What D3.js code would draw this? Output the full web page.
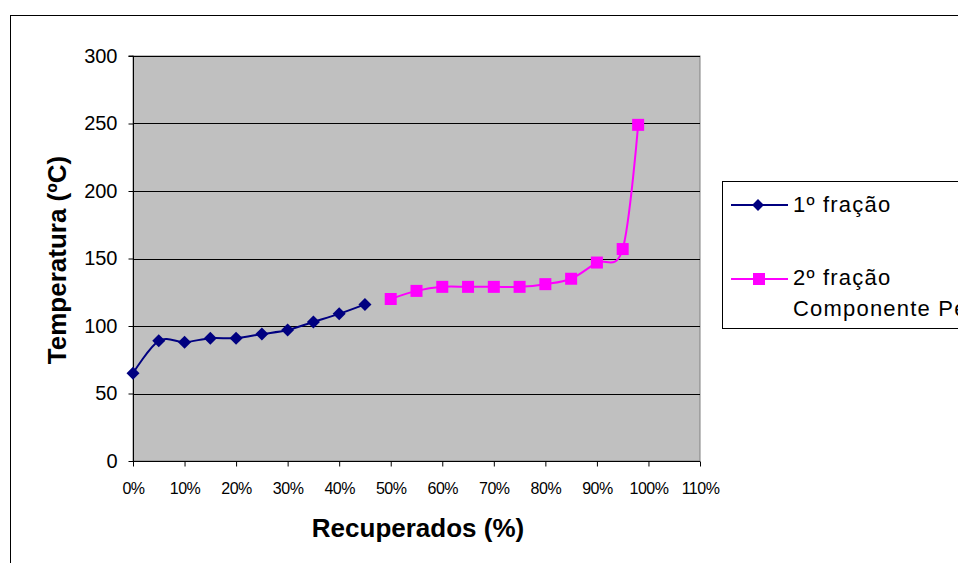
<!DOCTYPE html>
<html>
<head>
<meta charset="utf-8">
<script src="https://cdn.jsdelivr.net/npm/d3@7"></script>
<style>
  html, body { margin: 0; padding: 0; background: #fff; overflow: hidden; }
  svg { display: block; font-family: "Liberation Sans", Arial, sans-serif; }
</style>
</head>
<body>
<script>
// Distillation curve: temperature vs. recovered fraction
const serie1Names = "1º fração";
const serie2Lines = ["2º fração", "Componente Pesado"];

const recov1 = [0, 5, 10, 15, 20, 25, 30, 35, 40, 45];
const temp1  = [65, 89, 88, 91, 91, 94, 97, 103, 109, 116];

const recov2 = [50, 55, 60, 65, 70, 75, 80, 85, 90, 95, 98];
const temp2  = [120, 126, 129, 129, 129, 129, 131, 135, 147, 157, 249];

const xTicks = [0, 10, 20, 30, 40, 50, 60, 70, 80, 90, 100, 110];
const yTicks = [0, 50, 100, 150, 200, 250, 300];

const W = 958, H = 563;
const plot = { left: 133, top: 56, right: 700, bottom: 461 };
const FONT = "Liberation Sans, Arial, sans-serif";

const svg = d3.select("body").append("svg").attr("width", W).attr("height", H);

// chart frame
svg.append("rect")
  .attr("x", 10.5).attr("y", 15.5).attr("width", 1000).attr("height", 600)
  .attr("fill", "#fff").attr("stroke", "#000").attr("stroke-width", 1);

const x = d3.scaleLinear().domain([0, 110]).range([plot.left, plot.right]);
const y = d3.scaleLinear().domain([0, 300]).range([plot.bottom, plot.top]);

// plot area
svg.append("rect")
  .attr("x", plot.left).attr("y", plot.top)
  .attr("width", plot.right - plot.left).attr("height", plot.bottom - plot.top)
  .attr("fill", "#c0c0c0").attr("stroke", "#808080").attr("stroke-width", 1);

// horizontal gridlines
svg.append("g").selectAll("line").data(yTicks.filter(d => d > 0)).join("line")
  .attr("x1", plot.left).attr("x2", plot.right)
  .attr("y1", d => Math.round(y(d)) + 0.5).attr("y2", d => Math.round(y(d)) + 0.5)
  .attr("stroke", "#000").attr("stroke-width", 1);

// y axis
const yAxis = svg.append("g")
  .attr("transform", `translate(${plot.left + 0.5},0)`)
  .call(d3.axisLeft(y).tickValues(yTicks).tickSize(5).tickPadding(11));
yAxis.selectAll("text").attr("font-size", 20).attr("fill", "#000").attr("font-family", FONT);
yAxis.selectAll("line, path").attr("stroke", "#000");
yAxis.select(".domain").attr("d", `M-5,${y(300)}H0V${y(0)}`);

// x axis
const xAxis = svg.append("g")
  .attr("transform", `translate(0,${plot.bottom + 0.5})`)
  .call(d3.axisBottom(x).tickValues(xTicks).tickFormat(d => d + "%").tickSize(5).tickPadding(16));
xAxis.selectAll("text").attr("font-size", 16).attr("fill", "#000").attr("font-family", FONT)
  .attr("letter-spacing", -0.5);
xAxis.selectAll("line, path").attr("stroke", "#000");
xAxis.select(".domain").attr("d", `M${x(0)},0H${x(110)}`);

// axis titles
svg.append("text")
  .attr("x", 418).attr("y", 537)
  .attr("text-anchor", "middle").attr("font-size", 26).attr("font-weight", "bold")
  .text("Recuperados (%)");
svg.append("text")
  .attr("transform", `translate(66,260) rotate(-90)`)
  .attr("text-anchor", "middle").attr("font-size", 26).attr("font-weight", "bold")
  .text("Temperatura (ºC)");

const line = d3.line().x(d => x(d[0])).y(d => y(d[1])).curve(d3.curveCatmullRom.alpha(0));

const s1 = recov1.map((r, i) => [r, temp1[i]]);
const s2 = recov2.map((r, i) => [r, temp2[i]]);

const navy = "#000080", magenta = "#ff00ff";

svg.append("path").datum(s1).attr("d", line)
  .attr("fill", "none").attr("stroke", navy).attr("stroke-width", 2);
svg.append("path").datum(s2).attr("d", line)
  .attr("fill", "none").attr("stroke", magenta).attr("stroke-width", 2);

const diamond = d3.symbol().type(d3.symbolSquare).size(85);
svg.append("g").selectAll("path").data(s1).join("path")
  .attr("d", diamond)
  .attr("transform", d => `translate(${x(d[0])},${y(d[1])}) rotate(45)`)
  .attr("fill", navy);

svg.append("g").selectAll("rect").data(s2).join("rect")
  .attr("x", d => x(d[0]) - 6).attr("y", d => y(d[1]) - 6)
  .attr("width", 12).attr("height", 12)
  .attr("fill", magenta);

// legend
const lg = svg.append("g");
lg.append("rect").attr("x", 722.5).attr("y", 181.5).attr("width", 300).attr("height", 147)
  .attr("fill", "#fff").attr("stroke", "#000");

lg.append("line").attr("x1", 731).attr("x2", 788).attr("y1", 205).attr("y2", 205)
  .attr("stroke", navy).attr("stroke-width", 2);
lg.append("path").attr("d", d3.symbol().type(d3.symbolSquare).size(70))
  .attr("transform", "translate(758,205) rotate(45)").attr("fill", navy);
lg.append("text").attr("x", 793).attr("y", 212).attr("font-size", 22)
  .attr("letter-spacing", 1.2).text(serie1Names);

lg.append("line").attr("x1", 731).attr("x2", 788).attr("y1", 279).attr("y2", 279)
  .attr("stroke", magenta).attr("stroke-width", 2);
lg.append("rect").attr("x", 753).attr("y", 273).attr("width", 12).attr("height", 12).attr("fill", magenta);
lg.selectAll("text.l2").data(serie2Lines).join("text")
  .attr("class", "l2")
  .attr("x", 793).attr("y", (d, i) => 285 + i * 31)
  .attr("font-size", 22).attr("letter-spacing", 1.2).text(d => d);
</script>
</body>
</html>
